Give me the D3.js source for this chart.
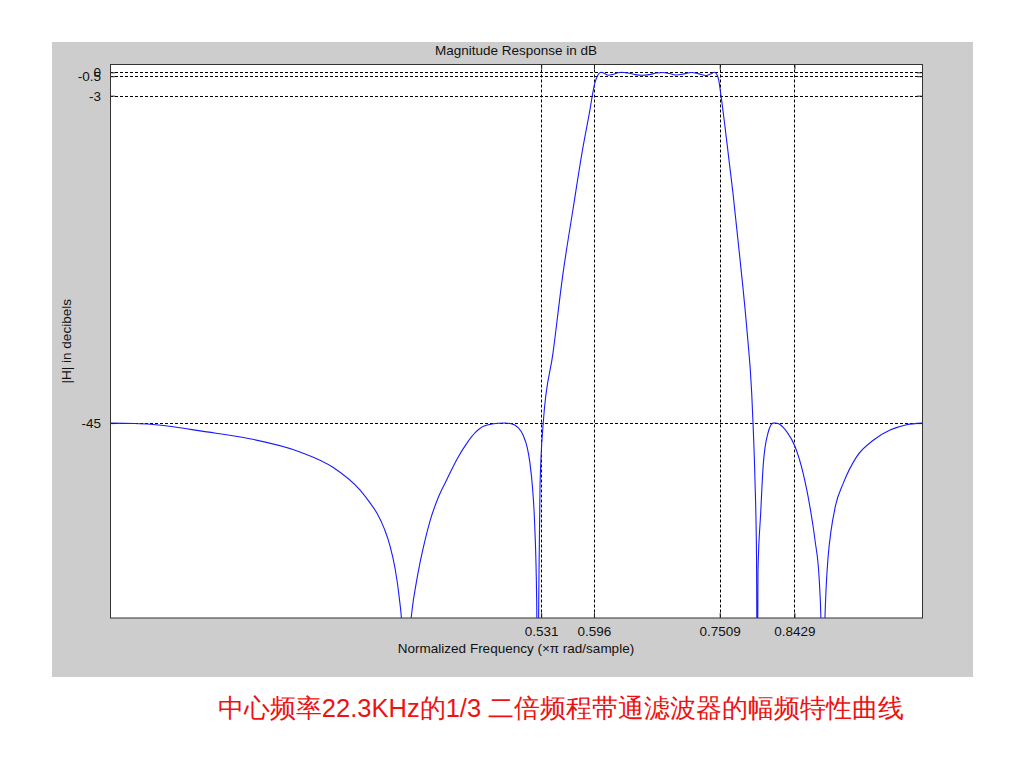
<!DOCTYPE html>
<html>
<head>
<meta charset="utf-8">
<script src="https://cdn.jsdelivr.net/npm/d3@7/dist/d3.min.js"></script>
<style>
  html, body { margin: 0; padding: 0; background: #ffffff; }
  svg { display: block; }
  text { font-family: "Liberation Sans", Arial, sans-serif; }
</style>
</head>
<body>
<svg id="chart" width="1024" height="768"></svg>
<script>
// ---- data ----
const titleText = "Magnitude Response in dB";
const xLabelText = "Normalized Frequency (\u00d7\u03c0 rad/sample)";
const yLabelText = "|H| in decibels";
const captionText = "中心频率22.3KHz的1/3 二倍频程带通滤波器的幅频特性曲线";

const xTicks = [0.531, 0.596, 0.7509, 0.8429];
const xTickLabels = ["0.531", "0.596", "0.7509", "0.8429"];
const yTicks = [0, -0.5, -3, -45];
const yTickLabels = ["0", "-0.5", "-3", "-45"];
const xDomain = [0, 1];
const yDomain = [-70, 1];

const freq = [0, 0.03, 0.05, 0.08, 0.111, 0.172, 0.234, 0.275, 0.308, 0.320, 0.329, 0.338, 0.345, 0.351, 0.356,
  0.360, 0.3645, 0.368, 0.372, 0.377, 0.382, 0.388, 0.394, 0.404, 0.415, 0.428, 0.44, 0.45, 0.46, 0.478, 0.486,
  0.493, 0.503, 0.509, 0.514, 0.517, 0.5205, 0.523, 0.5255, 0.5265, 0.528, 0.5296,
  0.5336, 0.5456, 0.5579, 0.570, 0.5825, 0.5911, 0.5948, 0.5973, 0.5997, 0.6023,
  0.6055, 0.609, 0.614, 0.620, 0.626, 0.630, 0.638, 0.647, 0.655, 0.664, 0.673, 0.680, 0.689, 0.698, 0.707,
  0.716, 0.725, 0.734, 0.740, 0.7445, 0.7475, 0.7495,
  0.7521, 0.7574, 0.7672, 0.7759, 0.7841, 0.7903, 0.7919, 0.7943, 0.7962, 0.7972, 0.7980, 0.8013, 0.8046,
  0.8103, 0.8165, 0.8196, 0.8227, 0.8334, 0.8436, 0.8538, 0.858, 0.8621, 0.8682, 0.8735, 0.8755, 0.8778, 0.8802,
  0.882, 0.8845, 0.888, 0.8935, 0.9031, 0.9196, 0.94, 0.9606, 0.9811, 1];
const magDb = [-45, -45.05, -45.15, -45.5, -46, -47, -48.7, -50.7, -53.6, -55.2, -56.6, -58.6, -60.8, -63.6, -67.2,
  -72, -90, -74, -69, -65.6, -62.8, -60, -57.6, -54.6, -52.2, -49.5, -47.5, -46.2, -45.4, -45.02, -44.98,
  -45.05, -45.6, -46.6, -48.2, -50, -53.5, -58, -68, -85, -68, -53,
  -44.9, -36, -25.8, -17.7, -9.6, -4.8, -2.5, -1.3, -0.6, -0.15,
  0, -0.15, -0.38, -0.25, -0.05, 0, -0.1, -0.3, -0.38, -0.3, -0.1, -0.02, -0.15, -0.35, -0.2,
  -0.02, -0.2, -0.42, -0.2, 0, -0.3, -0.9,
  -2.7, -7, -15.5, -24, -32.7, -41.2, -45, -52.3, -62, -85, -64, -56.6, -50.2,
  -46.3, -45, -44.98, -45.05, -46.1, -48, -51.5, -53.5, -55.8, -60, -65.2, -70, -85, -71,
  -66, -62, -58.8, -55.6, -52.7, -49.3, -47.2, -45.9, -45.2, -45];

// ---- drawing ----
const svg = d3.select("#chart");
const frame = { x: 52, y: 42, w: 921, h: 635 };
const plot = { left: 110, right: 922, top: 64.5, bottom: 618 };
const fontSize = 13.5;

svg.append("rect").attr("x", frame.x).attr("y", frame.y).attr("width", frame.w).attr("height", frame.h)
  .attr("fill", "#cdcdcd");

const x = d3.scaleLinear().domain(xDomain).range([plot.left, plot.right]);
const y = d3.scaleLinear().domain(yDomain).range([plot.bottom, plot.top]);

svg.append("rect").attr("x", plot.left).attr("y", plot.top)
  .attr("width", plot.right - plot.left).attr("height", plot.bottom - plot.top)
  .attr("fill", "#ffffff");

// grid lines (dotted)
const grid = svg.append("g").attr("stroke", "#000").attr("stroke-width", 1).attr("stroke-dasharray", "3,2");
grid.selectAll("line.gx").data(xTicks).join("line")
  .attr("x1", d => Math.round(x(d)) + 0.5).attr("x2", d => Math.round(x(d)) + 0.5)
  .attr("y1", plot.top).attr("y2", plot.bottom);
grid.selectAll("line.gy").data(yTicks).join("line")
  .attr("y1", d => Math.round(y(d)) + 0.5).attr("y2", d => Math.round(y(d)) + 0.5)
  .attr("x1", plot.left).attr("x2", plot.right);

// curve, clipped to plot area
svg.append("clipPath").attr("id", "clip").append("rect")
  .attr("x", plot.left).attr("y", plot.top)
  .attr("width", plot.right - plot.left).attr("height", plot.bottom - plot.top);
const pts = freq.map((f, i) => [f, magDb[i]]);
const line = d3.line().x(d => x(d[0])).y(d => y(d[1])).curve(d3.curveMonotoneX);
svg.append("path").datum(pts).attr("clip-path", "url(#clip)")
  .attr("d", line).attr("fill", "none").attr("stroke", "#1a1aff").attr("stroke-width", 1.1);

// axes (ticks inside)
const xAxis = d3.axisBottom(x).tickValues(xTicks).tickFormat((d, i) => xTickLabels[i])
  .tickSizeInner(-5).tickSizeOuter(0).tickPadding(8);
const gx = svg.append("g").attr("transform", `translate(0,${plot.bottom})`).call(xAxis);
const xTop = d3.axisTop(x).tickValues(xTicks).tickFormat("").tickSizeInner(-5).tickSizeOuter(0);
const gxt = svg.append("g").attr("transform", `translate(0,${plot.top})`).call(xTop);
const yAxis = d3.axisLeft(y).tickValues(yTicks).tickFormat((d, i) => yTickLabels[i])
  .tickSizeInner(-5).tickSizeOuter(0).tickPadding(9);
const gy = svg.append("g").attr("transform", `translate(${plot.left},0)`).call(yAxis);
const yRight = d3.axisRight(y).tickValues(yTicks).tickFormat("").tickSizeInner(-5).tickSizeOuter(0);
const gyr = svg.append("g").attr("transform", `translate(${plot.right},0)`).call(yRight);
[gx, gxt, gy, gyr].forEach(g => {
  g.select(".domain").remove();
  g.selectAll(".tick line").attr("stroke", "#222");
  g.selectAll("text").attr("font-size", fontSize).attr("fill", "#111")
    .attr("font-family", "Liberation Sans, Arial, sans-serif");
});

// box
svg.append("rect").attr("x", plot.left + 0.5).attr("y", plot.top)
  .attr("width", plot.right - plot.left).attr("height", plot.bottom - plot.top)
  .attr("fill", "none").attr("stroke", "#333").attr("stroke-width", 1);

// labels
svg.append("text").attr("x", (plot.left + plot.right) / 2).attr("y", 55)
  .attr("text-anchor", "middle").attr("font-size", fontSize).attr("fill", "#111").text(titleText);
svg.append("text").attr("x", (plot.left + plot.right) / 2).attr("y", 653)
  .attr("text-anchor", "middle").attr("font-size", fontSize).attr("fill", "#111").text(xLabelText);
svg.append("text").attr("transform", `translate(71,${(plot.top + plot.bottom) / 2}) rotate(-90)`)
  .attr("text-anchor", "middle").attr("font-size", fontSize).attr("fill", "#111").text(yLabelText);

svg.append("text").attr("x", 561).attr("y", 717)
  .attr("text-anchor", "middle").attr("font-size", 25.5).attr("fill", "#ee1111")
  .attr("font-family", "'Noto Sans CJK SC', 'Liberation Sans', sans-serif")
  .text(captionText);
</script>
</body>
</html>
